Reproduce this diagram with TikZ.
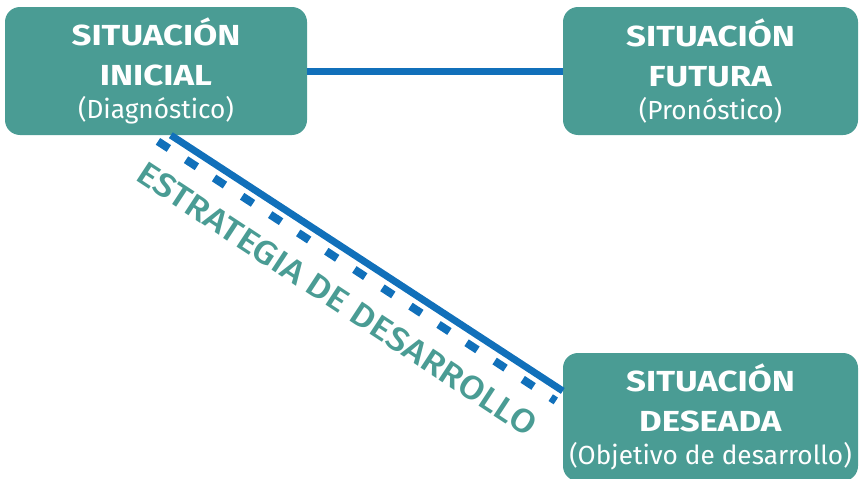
\documentclass[tikz,border=0pt]{standalone}
\usepackage{fontspec}
\setmainfont{Fira Sans}[BoldFeatures={FakeStretch=1.2}]
\newfontfamily\medfont{Fira Sans Medium}[FakeStretch=1.11]
\definecolor{verde}{HTML}{4A9C94}
\definecolor{azul}{HTML}{1170BA}

\begin{document}
\begin{tikzpicture}[x=1pt, y=-1pt,
    caja/.style={fill=verde, rounded corners=15pt, text=white, align=center,
      minimum height=128pt, inner sep=0pt, font=\fontsize{29}{40}\selectfont},
    linea/.style={azul, line width=7pt},
    puntos/.style={azul, line width=8pt, dash pattern=on 13pt off 20.5pt}]
    \useasboundingbox (0, 0) rectangle (860, 479);

    \node [caja, minimum width=302pt] (a) at (156, 71) {\textbf{SITUACIÓN}\\\textbf{INICIAL}\\[-7pt]{\fontsize{26.2}{33}\selectfont (Diagnóstico)}};
    \node [caja, minimum width=295pt] (b) at (710.5, 71) {\textbf{SITUACIÓN}\\\textbf{FUTURA}\\[-7pt]{\fontsize{26.2}{33}\selectfont (Pronóstico)}};
    \node [caja, minimum width=295pt] (c) at (710.5, 417) {\textbf{SITUACIÓN}\\\textbf{DESEADA}\\[-7pt]{\fontsize{26.2}{33}\selectfont (Objetivo de desarrollo)}};
    \node [text=verde, font=\medfont\fontsize{33}{40}\selectfont, rotate=-33.3] (d) at (337, 299) {ESTRATEGIA DE DESARROLLO};

    \draw [linea] (a) to (b);
    \draw [linea] (a.-77.7) to (c.170.8);
    \draw [puntos, shorten <=-7pt] ([shift={(-7,10)}]a.-77.7) to ([shift={(-7,10)}]c.170.8);

\end{tikzpicture}
\end{document}
